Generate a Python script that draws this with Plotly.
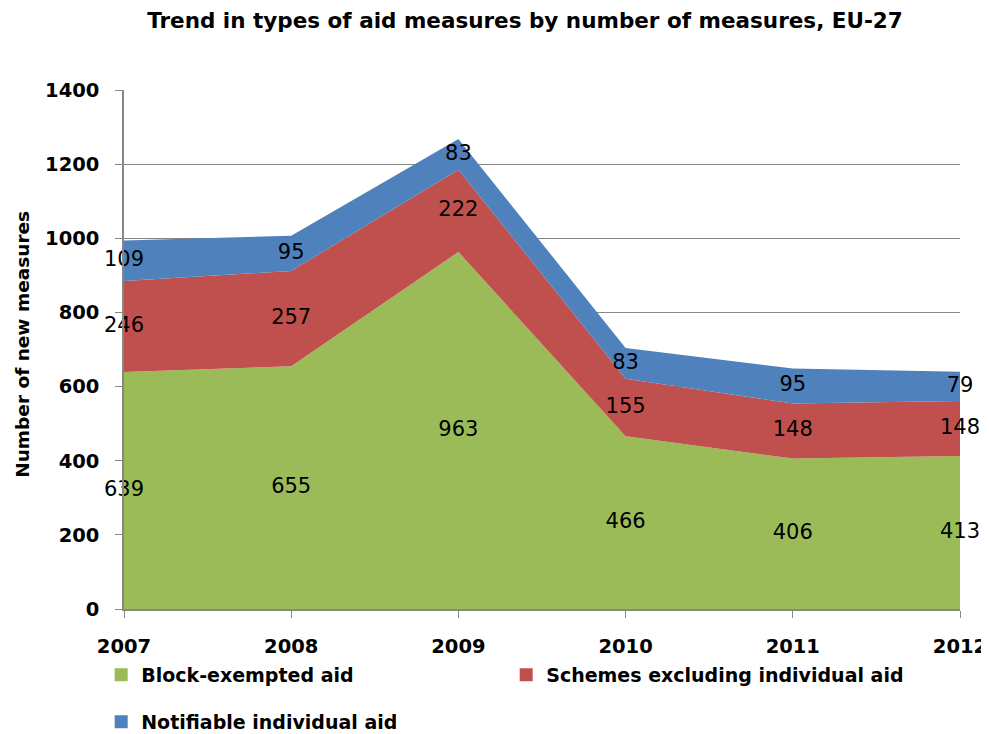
import plotly.graph_objects as go
import numpy as np

years = [2007, 2008, 2009, 2010, 2011, 2012]
block_exempted = [639, 655, 963, 466, 406, 413]
schemes = [246, 257, 222, 155, 148, 148]
notifiable = [109, 95, 83, 83, 95, 79]

series = [
    ("Block-exempted aid", block_exempted, "#9BBB59"),
    ("Schemes excluding individual aid", schemes, "#C0504D"),
    ("Notifiable individual aid", notifiable, "#4F81BD"),
]

FONT = "DejaVu Sans"
W, H = 981, 726   # page body adds an 8px offset
fig = go.Figure()
for name, vals, col in series:
    fig.add_trace(go.Scatter(
        x=years, y=vals, name=name, stackgroup="one", mode="none",
        fillcolor=col, line=dict(width=0), showlegend=False,
        hoverinfo="x+y+name"))
base = np.zeros(len(years))
for name, vals, col in series:
    v = np.array(vals, dtype=float)
    mid = base + v / 2
    fig.add_trace(go.Scatter(
        x=years, y=mid, mode="text", text=[str(x) for x in vals],
        textposition="middle center", showlegend=False, hoverinfo="skip",
        cliponaxis=False,
        textfont=dict(family=FONT, size=21, color="black")))
    base = base + v
# legend entries (square swatches)
legend_ids = ["legend", "legend", "legend2"]
for (name, vals, col), lg in zip(series, legend_ids):
    fig.add_trace(go.Scatter(
        x=[None], y=[None], mode="markers", name=f"<b>{name}</b>",
        marker=dict(symbol="square", size=13, color=col),
        showlegend=True, legend=lg))

legend_common = dict(orientation="h", xref="container", x=0.095, xanchor="left",
                     yref="container", yanchor="middle",
                     entrywidth=360, entrywidthmode="pixels",
                     traceorder="normal", bgcolor="rgba(0,0,0,0)",
                     font=dict(family=FONT, size=19, color="black"),
                     itemwidth=30)
fig.update_layout(
    width=W, height=H,
    paper_bgcolor="white", plot_bgcolor="white",
    margin=dict(l=116, r=29, t=82, b=125, autoexpand=False),
    title=dict(text="<b>Trend in types of aid measures by number of measures, EU-27</b>",
               xref="container", x=0.527, xanchor="center",
               yref="container", y=0.983, yanchor="middle",
               font=dict(family=FONT, size=21.5, color="black")),
    font=dict(family=FONT, color="black"),
    legend=dict(**legend_common, y=0.0813),
    legend2=dict(**legend_common, y=0.0165),
    showlegend=True,
)
fig.add_annotation(
    text="<b>Number of new measures</b>", textangle=-90,
    xref="paper", yref="paper", x=-0.1208, y=0.509,
    xanchor="center", yanchor="middle", showarrow=False,
    font=dict(family=FONT, size=18.5, color="black"))
fig.update_xaxes(
    range=[2007, 2012], tickvals=years, ticktext=[f"<b>{y}</b>" for y in years],
    showgrid=False, showline=True, linecolor="#868686", linewidth=1.5,
    ticks="outside", tickcolor="#868686", ticklen=7, automargin=False,
    ticklabelstandoff=12,
    tickfont=dict(family=FONT, size=19.5, color="black"), zeroline=False)
fig.update_yaxes(
    range=[0, 1400], tickvals=list(range(0, 1401, 200)),
    ticktext=[f"<b>{v}</b>" for v in range(0, 1401, 200)],
    showgrid=True, gridcolor="#868686", gridwidth=1.2,
    showline=True, linecolor="#868686", linewidth=1.5,
    ticks="outside", tickcolor="#868686", ticklen=7, automargin=False,
    ticklabelstandoff=12,
    tickfont=dict(family=FONT, size=19.5, color="black"), zeroline=False)

fig.write_html("out.html")
